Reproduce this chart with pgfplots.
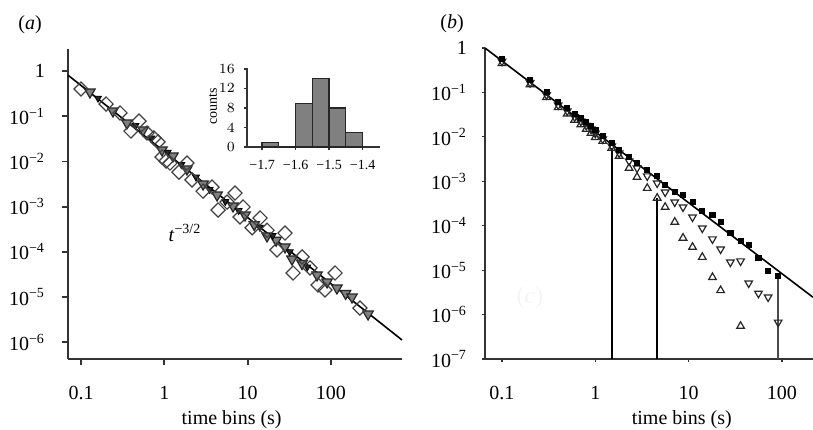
\documentclass[border=0pt]{standalone}
\usepackage{fontspec}
\setmainfont{Liberation Serif}
\usepackage{pgfplots}
\pgfplotsset{compat=1.18}

\newcommand{\ex}[1]{10\textsuperscript{#1}}

\begin{document}
\begin{tikzpicture}
\useasboundingbox (0,0) rectangle (406.5pt,214.5pt);

% panel labels and faint ghost letters
\node at (15pt,202pt) {(\textit{a})};
\node at (226pt,202.5pt) {(\textit{b})};
\node[black!4, font=\large] at (265pt,65.5pt) {(\textit{c})};

% ---------- panel (a) ----------
\begin{axis}[
    at={(34pt,35pt)}, anchor=south west,
    scale only axis, width=167pt, height=155pt,
    xmode=log, ymode=log,
    xmin=0.0698, xmax=713, ymin=4.25e-7, ymax=3.07,
    axis lines=left,
    axis line style={-, line width=0.9pt, black!80},
    tick align=outside, major tick length=3pt,
    tick style={line width=0.9pt, black!80},
    xminorticks=false, yminorticks=false,
    xtick={0.1,1,10,100}, xticklabels={0.1,1,10,100},
    ytick={1e-6,1e-5,1e-4,1e-3,1e-2,1e-1,1},
    yticklabels={\ex{−6},\ex{−5},\ex{−4},\ex{−3},\ex{−2},\ex{−1},1},
    yticklabel style={xshift=-5pt},
    xticklabel style={yshift=-7pt},
    xlabel={time bins (s)},
    xlabel style={at={(axis description cs:0.49,0)}, anchor=base, yshift=-32.5pt},
    clip=false,
]
\addplot[black, line width=0.8pt] coordinates {(0.0698,0.81) (713,1.12e-6)};
\addplot[only marks, mark=triangle*, mark size=3pt,
    mark options={rotate=180, fill=gray, draw=black!85, line width=0.6pt}]
coordinates {
(0.128,0.343) (0.242,0.130) (0.356,0.0708) (0.555,0.0495) (0.938,0.0179)
(1.27,0.0132) (1.87,0.0068) (2.92,0.00316) (4.30,0.0018) (6.68,0.00103)
(9.31,6.5e-4) (12,4.0e-4) (17.1,2.24e-4) (22,1.8e-4) (28.1,1.28e-4)
(34.1,6.9e-5) (45,5.5e-5) (68.1,3.07e-5) (89.8,2.15e-5) (118,1.58e-5)
(150,1.2e-5) (179,1.0e-5) (279,4.2e-6)
};
\addplot[only marks, mark=triangle*, mark size=2pt,
    mark options={rotate=180, fill=black!85, draw=black}]
coordinates {
(0.16,0.25) (0.45,0.062) (0.7,0.033) (1.1,0.016) (1.6,0.0085)
(2.4,0.0045) (3.5,0.0024) (5.4,0.0013) (7.8,8.2e-4) (14,3.5e-4)
(20,2.3e-4) (32,1.0e-4) (52,4.6e-5)
};
\addplot[only marks, mark=square, mark size=2.5pt,
    mark options={rotate=45, fill=white, draw=black!75, line width=0.6pt}]
coordinates {
(0.100,0.40) (0.200,0.186) (0.294,0.118) (0.497,0.078) (0.398,0.047)
(0.62,0.0425) (0.75,0.033) (0.84,0.027) (0.94,0.0125) (1.05,0.0102)
(1.17,0.0092) (1.87,0.0092) (1.50,0.0058) (2.15,0.0039) (2.92,0.0022)
(3.74,0.0027) (7.06,0.0020) (4.42,8.4e-4) (5.66,1.26e-3) (8.81,9.8e-4)
(14.1,5.6e-4) (8.1,5.9e-4) (11.3,3.4e-4) (17.1,3.0e-4) (22.5,1.10e-4)
(28.1,2.6e-4) (35.1,3.4e-5) (45.0,7.7e-5) (56.1,4.4e-5) (70.0,1.84e-5)
(84.9,1.43e-5) (112,3.4e-5) (223,5.7e-6)
};
\node at (axis cs:1.77,2.6e-4) {\textit{t}\textsuperscript{−3/2}};
\end{axis}

% ---------- inset histogram ----------
\begin{axis}[
    at={(123.5pt,141pt)}, anchor=south west,
    scale only axis, width=66.5pt, height=39.5pt,
    xmin=-1.745, xmax=-1.348, ymin=0, ymax=16.2,
    axis lines=left,
    axis line style={-, line width=0.7pt, black!80},
    tick align=outside, major tick length=1.5pt,
    tick style={line width=0.6pt, black!80},
    xtick={-1.7,-1.6,-1.5,-1.4}, xticklabels={−1.7,−1.6,−1.5,−1.4},
    ytick={0,4,8,12,16},
    tick label style={font=\fontsize{7}{8}\selectfont},
    yticklabel style={xshift=-1pt},
    xticklabel style={yshift=-1.5pt},
    ylabel={counts},
    ylabel style={font=\fontsize{7}{8}\selectfont, at={(axis description cs:-0.256,0.51)}, anchor=center},
    clip=false,
]
\addplot[ybar interval, fill=black!50, draw=black!85, line width=0.6pt]
coordinates {(-1.70,1) (-1.65,0) (-1.60,9) (-1.55,14) (-1.50,8) (-1.45,3) (-1.40,3)};
\end{axis}

% ---------- panel (b) ----------
\begin{axis}[
    at={(242.5pt,35pt)}, anchor=south west,
    scale only axis, width=164pt, height=155.5pt,
    xmode=log, ymode=log,
    xmin=0.0658, xmax=215, ymin=1e-7, ymax=1,
    axis lines=left,
    axis line style={-, line width=0.7pt, black!80},
    tick align=outside, major tick length=1.5pt,
    tick style={line width=0.6pt, black!80},
    xminorticks=false, yminorticks=false,
    xtick={0.1,1,10,100}, xticklabels={0.1,1,10,100},
    ytick={1e-7,1e-6,1e-5,1e-4,1e-3,1e-2,1e-1,1},
    yticklabels={\ex{−7},\ex{−6},\ex{−5},\ex{−4},\ex{−3},\ex{−2},\ex{−1},1},
    yticklabel style={xshift=-4pt},
    xticklabel style={yshift=-8.5pt},
    xlabel={time bins (s)},
    xlabel style={at={(axis description cs:0.60,0)}, anchor=base, yshift=-32.5pt},
    clip=false,
]
\addplot[black, line width=0.8pt] coordinates {(0.0658,1) (215,2.45e-6)};
\addplot[black, line width=0.7pt] coordinates {(1.51,1e-7) (1.51,0.0056)};
\addplot[black, line width=0.7pt] coordinates {(4.58,1e-7) (4.58,4.2e-4)};
\addplot[black!70, line width=0.7pt] coordinates {(90.8,1e-7) (90.8,7.3e-6)};
% up triangles
\addplot[only marks, mark=triangle, mark size=2.2pt,
    mark options={fill=white, draw=black!85, line width=0.6pt}]
coordinates {
(0.1,0.45) (0.2,0.15) (0.3,0.078) (0.4,0.046) (0.5,0.033) (0.6,0.024)
(0.7,0.019) (0.8,0.015) (0.9,0.0122) (1.0,0.0098) (1.2,0.0080) (1.5,0.0056)
(1.8,0.0037) (2.3,0.00198) (2.8,0.00124) (3.6,7.0e-4) (4.6,4.2e-4)
(5.6,2.62e-4) (7.1,1.21e-4) (8.7,5.3e-5) (11,3.3e-5) (14,1.96e-5)
(18,6.9e-6) (22,3.5e-6) (36,5.5e-7)
};
% down triangles
\addplot[only marks, mark=triangle, mark size=2.2pt,
    mark options={rotate=180, fill=white, draw=black!85, line width=0.6pt}]
coordinates {
(0.1,0.50) (0.2,0.165) (0.3,0.088) (0.4,0.052) (0.5,0.038) (0.6,0.028)
(0.7,0.0225) (0.8,0.018) (0.9,0.0148) (1.0,0.0120) (1.2,0.0089) (1.5,0.0062)
(1.8,0.0043) (2.3,0.00285) (2.8,0.00198) (3.6,0.00131) (4.6,9.1e-4)
(5.6,5.7e-4) (7.1,3.4e-4) (8.7,2.62e-4) (11,1.56e-4) (14,8.8e-5)
(18,5.0e-5) (22,2.97e-5) (28,1.51e-5) (36,1.60e-5) (44,5.1e-6)
(56,3.0e-6) (71,2.47e-6) (91,6.7e-7)
};
% filled squares
\addplot[only marks, mark=square*, mark size=1.3pt,
    mark options={fill=black, draw=black}]
coordinates {
(0.1,0.565) (0.2,0.190) (0.3,0.102) (0.4,0.0608) (0.5,0.0445) (0.6,0.0326)
(0.7,0.0265) (0.8,0.0215) (0.9,0.0175) (1.0,0.0142) (1.2,0.0104) (1.5,0.00724)
(1.8,0.00504) (2.3,0.00351) (2.8,0.00257) (3.6,0.00179) (4.6,0.00131)
(5.6,8.2e-4) (7.1,5.7e-4) (8.7,4.9e-4) (11,3.4e-4) (14,2.13e-4)
(18,1.73e-4) (22,1.21e-4) (28,6.8e-5) (36,4.5e-5) (44,3.66e-5)
(56,1.86e-5) (71,9.5e-6) (91,7.3e-6)
};
\end{axis}
\end{tikzpicture}
\end{document}
